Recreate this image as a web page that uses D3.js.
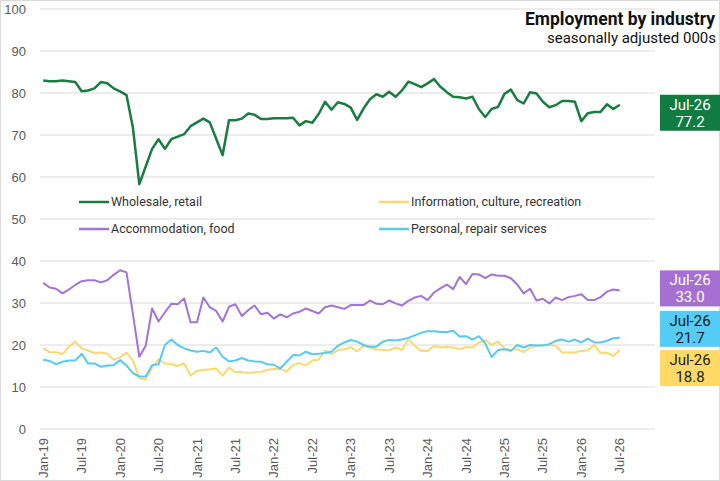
<!DOCTYPE html>
<html lang="en">
<head>
<meta charset="UTF-8">
<title>Employment by industry</title>
<script src="https://d3js.org/d3.v7.min.js"></script>
<style>
  body { margin: 0; background: #fff; }
  svg { display: block; font-family: "Roboto", sans-serif; }
</style>
</head>
<body>
<svg id="chart" width="720" height="481"></svg>
<script>
'use strict';

// months Jan-19 .. Dec-26 on the category axis, data runs to Jul-26
const years = [19, 20, 21, 22, 23, 24, 25, 26];
const monthNames = ['Jan','Feb','Mar','Apr','May','Jun','Jul','Aug','Sep','Oct','Nov','Dec'];
const months = years.flatMap(y => monthNames.map(m => m + '-' + y));
const tickLabels = months.filter((m, i) => i % 6 === 0);
const yTicks = [0, 10, 20, 30, 40, 50, 60, 70, 80, 90, 100];

const seriesNames = ['Wholesale, retail', 'Information, culture, recreation', 'Accommodation, food', 'Personal, repair services'];

const wholesale = [83.0,82.8,82.8,83.0,82.8,82.6,80.4,80.6,81.1,82.6,82.3,81.1,
  80.4,79.5,71.8,58.3,62.5,66.7,69.0,66.7,69.0,69.6,70.2,72.1,
  73.0,73.9,73.0,69.1,65.2,73.5,73.5,73.9,75.1,74.8,73.8,73.8,
  74.0,74.0,74.0,74.1,72.3,73.3,72.9,75.0,77.9,76.0,77.8,77.4,
  76.5,73.6,76.3,78.5,79.7,79.1,80.3,79.1,80.6,82.7,82.1,81.4,
  82.3,83.3,81.5,80.2,79.1,79.0,78.7,79.1,76.2,74.3,76.2,76.7,
  79.8,80.8,78.3,77.5,80.2,79.9,77.9,76.6,77.1,78.1,78.1,77.9,
  73.3,75.2,75.5,75.5,77.3,76.2,77.2];
const information = [19.2,18.3,18.3,17.8,19.6,20.8,19.2,18.7,18.1,18.2,17.9,16.5,
  17.1,18.2,16.3,12.1,11.8,14.7,16.6,15.6,15.4,15.0,15.6,12.7,
  13.8,14.0,14.2,14.4,12.7,14.6,13.5,13.6,13.3,13.5,13.6,14.1,
  14.3,14.3,13.7,15.2,15.7,15.1,16.3,16.5,18.7,17.8,18.8,19.0,
  19.5,18.5,19.8,19.4,18.9,18.8,18.7,19.4,18.8,21.4,19.8,18.6,
  18.6,19.8,19.4,19.6,19.4,19.0,19.5,19.4,20.6,21.2,20.0,20.8,
  19.1,18.8,19.0,18.3,19.3,19.9,20.0,20.0,19.8,18.2,18.2,18.2,
  18.6,18.7,20.0,18.1,18.2,17.4,18.8];
const accommodation = [34.8,33.7,33.4,32.3,33.2,34.3,35.2,35.4,35.4,34.9,35.4,36.7,
  37.8,37.3,27.4,17.2,19.8,28.7,25.6,27.8,29.8,29.7,31.1,25.4,
  25.4,31.3,29.0,28.1,25.6,29.1,29.7,26.9,28.3,29.4,27.3,27.7,
  26.3,27.3,26.6,27.5,27.9,28.7,28.1,27.5,29.0,29.4,29.0,28.6,
  29.5,29.5,29.5,30.6,29.8,29.7,30.6,29.9,29.4,30.5,31.3,31.7,
  30.7,32.5,33.5,34.4,33.3,36.2,34.5,36.9,36.8,35.9,36.8,36.5,
  36.5,35.9,34.4,32.3,33.4,30.6,31.0,29.9,31.3,30.7,31.4,31.7,
  32.1,30.7,30.7,31.4,32.7,33.2,33.0];
const personal = [16.5,16.2,15.4,16.0,16.3,16.3,17.9,15.6,15.6,14.8,15.1,15.2,
  16.4,15.1,13.3,12.5,12.5,15.2,15.4,20.0,21.3,20.0,19.2,18.7,
  18.4,18.6,18.2,19.4,17.2,16.1,16.3,16.9,16.3,16.1,16.0,15.4,
  15.3,14.4,16.0,17.6,17.5,18.4,17.8,17.9,18.1,18.4,19.8,20.6,
  21.2,20.8,20.0,19.6,19.6,20.8,21.2,21.1,21.3,21.7,22.3,22.9,
  23.3,23.3,23.1,23.1,23.4,22.0,22.1,21.3,22.1,20.4,17.1,18.8,
  19.0,18.6,20.0,19.4,20.0,19.9,19.9,20.2,21.0,21.3,20.8,21.3,
  20.6,21.5,20.6,20.6,21.0,21.6,21.7];

const lineColors = ['#1b7c42', '#fcd870', '#a374d4', '#58c9f1'];
const boxColors = ['#107c41', '#ffd966', '#a66fd4', '#55ccf5'];
const boxText = ['#ffffff', '#222222', '#ffffff', '#1a1a1a'];
const lineWidths = [2.5, 2, 2, 2];
// vertical nudges of end labels so they don't collide
const labelNudge = [8, 18, -2, -9];

const allSeries = [wholesale, information, accommodation, personal];

const svg = d3.select('#chart');
const W = 720, H = 481;
const plot = { left: 40, right: 655, top: 9, bottom: 429 };

svg.append('rect').attr('x', 0.5).attr('y', 0.5).attr('width', W - 1).attr('height', H - 1)
  .attr('fill', '#fff').attr('stroke', '#d9d9d9');

const x = d3.scaleBand().domain(months).range([plot.left, plot.right]).padding(0);
const xc = m => x(m) + x.bandwidth() / 2;
const y = d3.scaleLinear().domain([0, 100]).range([plot.bottom, plot.top]);

// gridlines
svg.append('g').selectAll('line').data(yTicks).enter().append('line')
  .attr('x1', plot.left).attr('x2', plot.right)
  .attr('y1', d => y(d)).attr('y2', d => y(d))
  .attr('stroke', '#d9d9d9').attr('stroke-width', 1);

// y axis labels
const yAxis = d3.axisLeft(y).tickValues(yTicks).tickSize(0).tickPadding(0);
const gy = svg.append('g').attr('transform', 'translate(26,0)').call(yAxis);
gy.select('.domain').remove();
gy.selectAll('text').attr('font-size', 13).attr('fill', '#595959')
  .style('font-family', '"Liberation Sans", Arial, sans-serif');

// x axis labels (rotated)
const xAxis = d3.axisBottom(x).tickValues(tickLabels).tickSize(0).tickPadding(0);
const gx = svg.append('g').attr('transform', `translate(0,${plot.bottom})`).call(xAxis);
gx.select('.domain').remove();
gx.selectAll('text')
  .attr('font-size', 13).attr('fill', '#595959')
  .style('font-family', '"Liberation Sans", Arial, sans-serif')
  .attr('text-anchor', 'end')
  .attr('dy', '0.35em')
  .attr('transform', 'translate(0,9) rotate(-90)')
  .attr('x', 0).attr('y', 0);

// lines
const line = d3.line().x((d, i) => xc(months[i])).y(d => y(d));
allSeries.forEach((s, k) => {
  svg.append('path').datum(s)
    .attr('fill', 'none')
    .attr('stroke', lineColors[k])
    .attr('stroke-width', lineWidths[k])
    .attr('stroke-linejoin', 'round')
    .attr('d', line);
});

// legend, two columns
const legendPos = [[79, 202], [379, 202], [79, 229], [379, 229]];
const lg = svg.append('g');
seriesNames.forEach((name, k) => {
  const [lx, ly] = legendPos[k];
  lg.append('line').attr('x1', lx).attr('x2', lx + 30).attr('y1', ly).attr('y2', ly)
    .attr('stroke', lineColors[k]).attr('stroke-width', 2.5);
  lg.append('text').attr('x', lx + 32).attr('y', ly).attr('dy', '0.35em')
    .attr('font-size', 12.5).attr('fill', '#333').text(name);
});

// end-of-series value boxes
const lastIdx = wholesale.length - 1;
allSeries.forEach((s, k) => {
  const v = s[lastIdx];
  const cy = y(v) + labelNudge[k];
  const g = svg.append('g');
  g.append('rect').attr('x', 660).attr('y', cy - 18).attr('width', 60).attr('height', 36)
    .attr('fill', boxColors[k]);
  g.append('text').attr('x', 690).attr('y', cy - 3).attr('text-anchor', 'middle')
    .attr('font-size', 15).attr('fill', boxText[k]).text(months[lastIdx]);
  g.append('text').attr('x', 690).attr('y', cy + 14).attr('text-anchor', 'middle')
    .attr('font-size', 15).attr('fill', boxText[k]).text(v.toFixed(1));
});

// title
svg.append('text').attr('x', 715).attr('y', 25).attr('text-anchor', 'end')
  .attr('font-size', 17.5).attr('font-weight', 'bold').attr('fill', '#111')
  .text('Employment by industry');
svg.append('text').attr('x', 716).attr('y', 43).attr('text-anchor', 'end')
  .attr('font-size', 15).attr('fill', '#111')
  .text('seasonally adjusted 000s');
</script>
</body>
</html>
